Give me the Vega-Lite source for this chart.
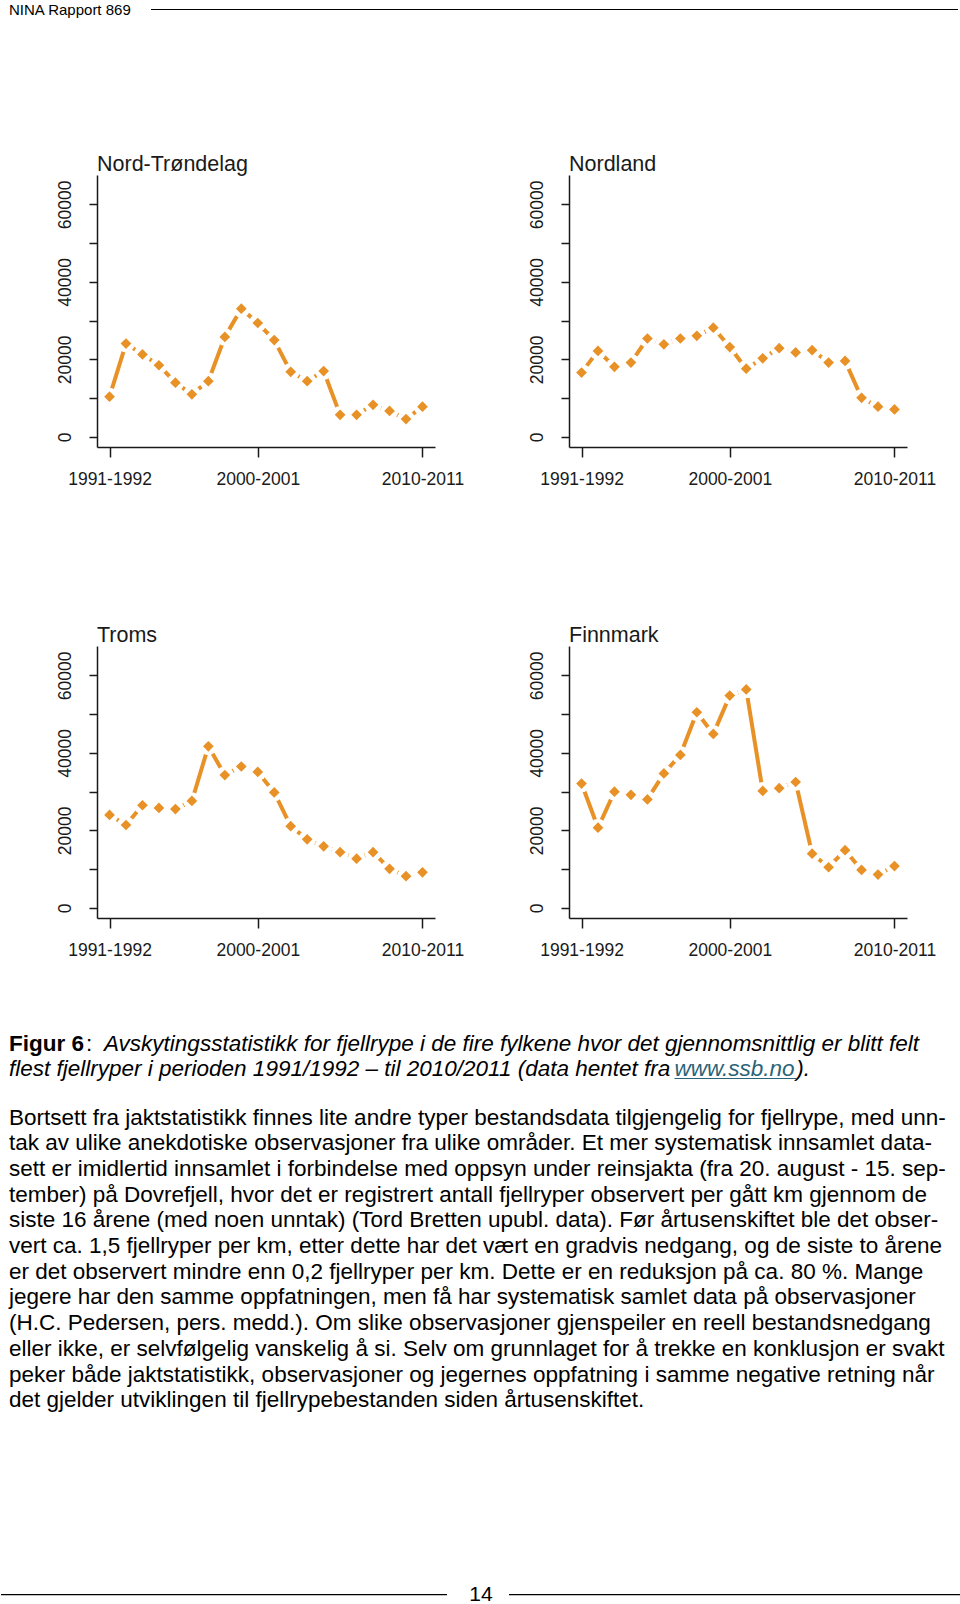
{
  "$schema": "https://vega.github.io/schema/vega-lite/v6.json",
  "padding": 0,
  "background": "white",
  "columns": 4,
  "spacing": 0,
  "bounds": "flush",
  "align": "each",
  "config": {
    "view": {"stroke": null},
    "font": "Liberation Sans",
    "axis": {"grid": false, "domainColor": "#1a1a1a", "tickColor": "#1a1a1a", "labelColor": "#1a1a1a", "labelFont": "Liberation Sans", "labelFontSize": 17.5, "domainWidth": 1.5, "tickWidth": 1.5, "title": null},
    "title": {"font": "Liberation Sans", "fontSize": 21.5, "fontWeight": "normal", "color": "#1a1a1a", "anchor": "start", "frame": "group", "baseline": "alphabetic", "offset": 0, "dy": 4}
  },
  "datasets": {
    "rype": [
      {"region": "Nord-Trøndelag", "year": 1991, "catch": 10400},
      {"region": "Nord-Trøndelag", "year": 1992, "catch": 24100},
      {"region": "Nord-Trøndelag", "year": 1993, "catch": 21300},
      {"region": "Nord-Trøndelag", "year": 1994, "catch": 18500},
      {"region": "Nord-Trøndelag", "year": 1995, "catch": 14000},
      {"region": "Nord-Trøndelag", "year": 1996, "catch": 11000},
      {"region": "Nord-Trøndelag", "year": 1997, "catch": 14400},
      {"region": "Nord-Trøndelag", "year": 1998, "catch": 25800},
      {"region": "Nord-Trøndelag", "year": 1999, "catch": 33100},
      {"region": "Nord-Trøndelag", "year": 2000, "catch": 29400},
      {"region": "Nord-Trøndelag", "year": 2001, "catch": 25000},
      {"region": "Nord-Trøndelag", "year": 2002, "catch": 16800},
      {"region": "Nord-Trøndelag", "year": 2003, "catch": 14400},
      {"region": "Nord-Trøndelag", "year": 2004, "catch": 17000},
      {"region": "Nord-Trøndelag", "year": 2005, "catch": 5700},
      {"region": "Nord-Trøndelag", "year": 2006, "catch": 5700},
      {"region": "Nord-Trøndelag", "year": 2007, "catch": 8300},
      {"region": "Nord-Trøndelag", "year": 2008, "catch": 6700},
      {"region": "Nord-Trøndelag", "year": 2009, "catch": 4600},
      {"region": "Nord-Trøndelag", "year": 2010, "catch": 7800},
      {"region": "Nordland", "year": 1991, "catch": 16600},
      {"region": "Nordland", "year": 1992, "catch": 22200},
      {"region": "Nordland", "year": 1993, "catch": 18100},
      {"region": "Nordland", "year": 1994, "catch": 19200},
      {"region": "Nordland", "year": 1995, "catch": 25400},
      {"region": "Nordland", "year": 1996, "catch": 23900},
      {"region": "Nordland", "year": 1997, "catch": 25400},
      {"region": "Nordland", "year": 1998, "catch": 26100},
      {"region": "Nordland", "year": 1999, "catch": 28200},
      {"region": "Nordland", "year": 2000, "catch": 23200},
      {"region": "Nordland", "year": 2001, "catch": 17600},
      {"region": "Nordland", "year": 2002, "catch": 20300},
      {"region": "Nordland", "year": 2003, "catch": 22900},
      {"region": "Nordland", "year": 2004, "catch": 21800},
      {"region": "Nordland", "year": 2005, "catch": 22400},
      {"region": "Nordland", "year": 2006, "catch": 19200},
      {"region": "Nordland", "year": 2007, "catch": 19600},
      {"region": "Nordland", "year": 2008, "catch": 10100},
      {"region": "Nordland", "year": 2009, "catch": 7800},
      {"region": "Nordland", "year": 2010, "catch": 7100},
      {"region": "Troms", "year": 1991, "catch": 24000},
      {"region": "Troms", "year": 1992, "catch": 21400},
      {"region": "Troms", "year": 1993, "catch": 26500},
      {"region": "Troms", "year": 1994, "catch": 25800},
      {"region": "Troms", "year": 1995, "catch": 25500},
      {"region": "Troms", "year": 1996, "catch": 27600},
      {"region": "Troms", "year": 1997, "catch": 41700},
      {"region": "Troms", "year": 1998, "catch": 34300},
      {"region": "Troms", "year": 1999, "catch": 36500},
      {"region": "Troms", "year": 2000, "catch": 35100},
      {"region": "Troms", "year": 2001, "catch": 29800},
      {"region": "Troms", "year": 2002, "catch": 21100},
      {"region": "Troms", "year": 2003, "catch": 17700},
      {"region": "Troms", "year": 2004, "catch": 15900},
      {"region": "Troms", "year": 2005, "catch": 14400},
      {"region": "Troms", "year": 2006, "catch": 12700},
      {"region": "Troms", "year": 2007, "catch": 14400},
      {"region": "Troms", "year": 2008, "catch": 10100},
      {"region": "Troms", "year": 2009, "catch": 8200},
      {"region": "Troms", "year": 2010, "catch": 9200},
      {"region": "Finnmark", "year": 1991, "catch": 32100},
      {"region": "Finnmark", "year": 1992, "catch": 20700},
      {"region": "Finnmark", "year": 1993, "catch": 30000},
      {"region": "Finnmark", "year": 1994, "catch": 29200},
      {"region": "Finnmark", "year": 1995, "catch": 28000},
      {"region": "Finnmark", "year": 1996, "catch": 34700},
      {"region": "Finnmark", "year": 1997, "catch": 39500},
      {"region": "Finnmark", "year": 1998, "catch": 50500},
      {"region": "Finnmark", "year": 1999, "catch": 44900},
      {"region": "Finnmark", "year": 2000, "catch": 54800},
      {"region": "Finnmark", "year": 2001, "catch": 56400},
      {"region": "Finnmark", "year": 2002, "catch": 30200},
      {"region": "Finnmark", "year": 2003, "catch": 30900},
      {"region": "Finnmark", "year": 2004, "catch": 32500},
      {"region": "Finnmark", "year": 2005, "catch": 14000},
      {"region": "Finnmark", "year": 2006, "catch": 10500},
      {"region": "Finnmark", "year": 2007, "catch": 14900},
      {"region": "Finnmark", "year": 2008, "catch": 9800},
      {"region": "Finnmark", "year": 2009, "catch": 8600},
      {"region": "Finnmark", "year": 2010, "catch": 10800}
    ],
    "paragraph": [
      {"line": 1, "text": "Bortsett fra jaktstatistikk finnes lite andre typer bestandsdata tilgjengelig for fjellrype, med unn-"},
      {"line": 2, "text": "tak av ulike anekdotiske observasjoner fra ulike områder. Et mer systematisk innsamlet data-"},
      {"line": 3, "text": "sett er imidlertid innsamlet i forbindelse med oppsyn under reinsjakta (fra 20. august - 15. sep-"},
      {"line": 4, "text": "tember) på Dovrefjell, hvor det er registrert antall fjellryper observert per gått km gjennom de"},
      {"line": 5, "text": "siste 16 årene (med noen unntak) (Tord Bretten upubl. data). Før årtusenskiftet ble det obser-"},
      {"line": 6, "text": "vert ca. 1,5 fjellryper per km, etter dette har det vært en gradvis nedgang, og de siste to årene"},
      {"line": 7, "text": "er det observert mindre enn 0,2 fjellryper per km. Dette er en reduksjon på ca. 80 %. Mange"},
      {"line": 8, "text": "jegere har den samme oppfatningen, men få har systematisk samlet data på observasjoner"},
      {"line": 9, "text": "(H.C. Pedersen, pers. medd.). Om slike observasjoner gjenspeiler en reell bestandsnedgang"},
      {"line": 10, "text": "eller ikke, er selvfølgelig vanskelig å si. Selv om grunnlaget for å trekke en konklusjon er svakt"},
      {"line": 11, "text": "peker både jaktstatistikk, observasjoner og jegernes oppfatning i samme negative retning når"},
      {"line": 12, "text": "det gjelder utviklingen til fjellrypebestanden siden årtusenskiftet."}
    ]
  },
  "concat": [
    {
      "width": 96, "height": 175,
      "data": {"values": [{}]},
      "layer": [
        {"mark": {"type": "text", "text": "NINA Rapport 869", "align": "left", "baseline": "alphabetic", "fontSize": 15, "font": "Liberation Sans", "color": "#000"},
         "encoding": {"x": {"value": 8}, "y": {"value": 14.5}}},
        {"mark": {"type": "rule", "color": "#000", "strokeWidth": 1.2},
         "encoding": {"x": {"value": 150}, "x2": {"value": 957}, "y": {"value": 9.5}}}
      ]
    },
    {"width": 1, "height": 1, "data": {"values": []}, "mark": "point"},
    {"width": 1, "height": 1, "data": {"values": []}, "mark": "point"},
    {"width": 1, "height": 1, "data": {"values": []}, "mark": "point"},

    {"width": 96, "height": 1, "data": {"values": []}, "mark": "point"},
    {
      "width": 338, "height": 272,
      "title": {"text": "Nord-Trøndelag"},
      "data": {"name": "rype"},
      "transform": [{"filter": "datum.region === 'Nord-Trøndelag'"}],
      "encoding": {
        "x": {"field": "year", "type": "quantitative", "scale": {"domain": [1990.24, 2010.76], "nice": false, "zero": false},
              "axis": {"values": [1991, 2000, 2010], "labelExpr": "datum.value + '-' + (datum.value + 1)", "tickSize": 10, "labelPadding": 27, "labelBaseline": "alphabetic", "labelAngle": 0, "labelFlush": false, "labelOverlap": false}},
        "y": {"field": "catch", "type": "quantitative", "scale": {"domain": [-2600, 67600], "nice": false, "zero": false},
              "axis": {"values": [0, 10000, 20000, 30000, 40000, 50000, 60000], "labelExpr": "datum.value % 20000 === 0 ? format(datum.value, 'd') : ''", "tickSize": 8, "labelAngle": 270, "labelAlign": "center", "labelBaseline": "alphabetic", "labelPadding": 18.5, "labelOverlap": false, "labelFlush": false}}
      },
      "layer": [
        {"mark": {"type": "line", "color": "#E89126", "strokeWidth": 4}},
        {"mark": {"type": "point", "shape": "circle", "filled": true, "color": "white", "opacity": 1, "size": 314}},
        {"mark": {"type": "point", "shape": "diamond", "filled": true, "color": "#E89126", "opacity": 1, "size": 115}}
      ]
    },
    {"width": 134, "height": 1, "data": {"values": []}, "mark": "point"},
    {
      "width": 338, "height": 272,
      "title": {"text": "Nordland"},
      "data": {"name": "rype"},
      "transform": [{"filter": "datum.region === 'Nordland'"}],
      "encoding": {
        "x": {"field": "year", "type": "quantitative", "scale": {"domain": [1990.24, 2010.76], "nice": false, "zero": false},
              "axis": {"values": [1991, 2000, 2010], "labelExpr": "datum.value + '-' + (datum.value + 1)", "tickSize": 10, "labelPadding": 27, "labelBaseline": "alphabetic", "labelAngle": 0, "labelFlush": false, "labelOverlap": false}},
        "y": {"field": "catch", "type": "quantitative", "scale": {"domain": [-2600, 67600], "nice": false, "zero": false},
              "axis": {"values": [0, 10000, 20000, 30000, 40000, 50000, 60000], "labelExpr": "datum.value % 20000 === 0 ? format(datum.value, 'd') : ''", "tickSize": 8, "labelAngle": 270, "labelAlign": "center", "labelBaseline": "alphabetic", "labelPadding": 18.5, "labelOverlap": false, "labelFlush": false}}
      },
      "layer": [
        {"mark": {"type": "line", "color": "#E89126", "strokeWidth": 4}},
        {"mark": {"type": "point", "shape": "circle", "filled": true, "color": "white", "opacity": 1, "size": 314}},
        {"mark": {"type": "point", "shape": "diamond", "filled": true, "color": "#E89126", "opacity": 1, "size": 115}}
      ]
    },

    {"width": 1, "height": 199, "data": {"values": []}, "mark": "point"},
    {"width": 1, "height": 1, "data": {"values": []}, "mark": "point"},
    {"width": 1, "height": 1, "data": {"values": []}, "mark": "point"},
    {"width": 1, "height": 1, "data": {"values": []}, "mark": "point"},

    {"width": 96, "height": 1, "data": {"values": []}, "mark": "point"},
    {
      "width": 338, "height": 272,
      "title": {"text": "Troms"},
      "data": {"name": "rype"},
      "transform": [{"filter": "datum.region === 'Troms'"}],
      "encoding": {
        "x": {"field": "year", "type": "quantitative", "scale": {"domain": [1990.24, 2010.76], "nice": false, "zero": false},
              "axis": {"values": [1991, 2000, 2010], "labelExpr": "datum.value + '-' + (datum.value + 1)", "tickSize": 10, "labelPadding": 27, "labelBaseline": "alphabetic", "labelAngle": 0, "labelFlush": false, "labelOverlap": false}},
        "y": {"field": "catch", "type": "quantitative", "scale": {"domain": [-2600, 67600], "nice": false, "zero": false},
              "axis": {"values": [0, 10000, 20000, 30000, 40000, 50000, 60000], "labelExpr": "datum.value % 20000 === 0 ? format(datum.value, 'd') : ''", "tickSize": 8, "labelAngle": 270, "labelAlign": "center", "labelBaseline": "alphabetic", "labelPadding": 18.5, "labelOverlap": false, "labelFlush": false}}
      },
      "layer": [
        {"mark": {"type": "line", "color": "#E89126", "strokeWidth": 4}},
        {"mark": {"type": "point", "shape": "circle", "filled": true, "color": "white", "opacity": 1, "size": 314}},
        {"mark": {"type": "point", "shape": "diamond", "filled": true, "color": "#E89126", "opacity": 1, "size": 115}}
      ]
    },
    {"width": 134, "height": 1, "data": {"values": []}, "mark": "point"},
    {
      "width": 338, "height": 272,
      "title": {"text": "Finnmark"},
      "data": {"name": "rype"},
      "transform": [{"filter": "datum.region === 'Finnmark'"}],
      "encoding": {
        "x": {"field": "year", "type": "quantitative", "scale": {"domain": [1990.24, 2010.76], "nice": false, "zero": false},
              "axis": {"values": [1991, 2000, 2010], "labelExpr": "datum.value + '-' + (datum.value + 1)", "tickSize": 10, "labelPadding": 27, "labelBaseline": "alphabetic", "labelAngle": 0, "labelFlush": false, "labelOverlap": false}},
        "y": {"field": "catch", "type": "quantitative", "scale": {"domain": [-2600, 67600], "nice": false, "zero": false},
              "axis": {"values": [0, 10000, 20000, 30000, 40000, 50000, 60000], "labelExpr": "datum.value % 20000 === 0 ? format(datum.value, 'd') : ''", "tickSize": 8, "labelAngle": 270, "labelAlign": "center", "labelBaseline": "alphabetic", "labelPadding": 18.5, "labelOverlap": false, "labelFlush": false}}
      },
      "layer": [
        {"mark": {"type": "line", "color": "#E89126", "strokeWidth": 4}},
        {"mark": {"type": "point", "shape": "circle", "filled": true, "color": "white", "opacity": 1, "size": 314}},
        {"mark": {"type": "point", "shape": "diamond", "filled": true, "color": "#E89126", "opacity": 1, "size": 115}}
      ]
    },

    {
      "width": 96, "height": 686,
      "layer": [
        {"data": {"values": [{}]},
         "mark": {"type": "text", "text": "Figur 6", "align": "left", "baseline": "alphabetic", "fontSize": 22.5, "fontWeight": "bold", "font": "Liberation Sans", "color": "#000"},
         "encoding": {"x": {"value": 8}, "y": {"value": 133}}},
        {"data": {"values": [{}]},
         "mark": {"type": "text", "text": ":", "align": "left", "baseline": "alphabetic", "fontSize": 22.5, "font": "Liberation Sans", "color": "#000"},
         "encoding": {"x": {"value": 85}, "y": {"value": 133}}},
        {"data": {"values": [{}]},
         "mark": {"type": "text", "text": "Avskytingsstatistikk for fjellrype i de fire fylkene hvor det gjennomsnittlig er blitt felt", "align": "left", "baseline": "alphabetic", "fontSize": 22.5, "fontStyle": "italic", "font": "Liberation Sans", "color": "#000"},
         "encoding": {"x": {"value": 103}, "y": {"value": 133}}},
        {"data": {"values": [{}]},
         "mark": {"type": "text", "text": "flest fjellryper i perioden 1991/1992 – til 2010/2011 (data hentet fra", "align": "left", "baseline": "alphabetic", "fontSize": 22.5, "fontStyle": "italic", "font": "Liberation Sans", "color": "#000"},
         "encoding": {"x": {"value": 8}, "y": {"value": 157.5}}},
        {"data": {"values": [{}]},
         "mark": {"type": "text", "text": "www.ssb.no", "align": "left", "baseline": "alphabetic", "fontSize": 22.5, "fontStyle": "italic", "font": "Liberation Sans", "color": "#2A6478"},
         "encoding": {"x": {"value": 673.5}, "y": {"value": 157.5}}},
        {"data": {"values": [{}]},
         "mark": {"type": "rule", "color": "#2A6478", "strokeWidth": 1.2},
         "encoding": {"x": {"value": 673.5}, "x2": {"value": 795.3}, "y": {"value": 160.5}}},
        {"data": {"values": [{}]},
         "mark": {"type": "text", "text": ").", "align": "left", "baseline": "alphabetic", "fontSize": 22.5, "fontStyle": "italic", "font": "Liberation Sans", "color": "#000"},
         "encoding": {"x": {"value": 795.3}, "y": {"value": 157.5}}},
        {"data": {"name": "paragraph"},
         "mark": {"type": "text", "align": "left", "baseline": "alphabetic", "fontSize": 22.5, "font": "Liberation Sans", "color": "#000"},
         "encoding": {
           "x": {"value": 8},
           "y": {"field": "line", "type": "quantitative", "scale": {"domain": [1, 12], "range": [206.5, 489.2], "zero": false, "nice": false}, "axis": null},
           "text": {"field": "text", "type": "nominal"}
         }},
        {"data": {"values": [{}]},
         "mark": {"type": "rule", "color": "#000", "strokeWidth": 1.2},
         "encoding": {"x": {"value": 0}, "x2": {"value": 446}, "y": {"value": 676.6}}},
        {"data": {"values": [{}]},
         "mark": {"type": "rule", "color": "#000", "strokeWidth": 1.2},
         "encoding": {"x": {"value": 508}, "x2": {"value": 960}, "y": {"value": 676.6}}},
        {"data": {"values": [{}]},
         "mark": {"type": "text", "text": "14", "align": "center", "baseline": "alphabetic", "fontSize": 21, "font": "Liberation Sans", "color": "#000"},
         "encoding": {"x": {"value": 480}, "y": {"value": 683}}}
      ]
    },
    {"width": 1, "height": 1, "data": {"values": []}, "mark": "point"},
    {"width": 1, "height": 1, "data": {"values": []}, "mark": "point"},
    {"width": 1, "height": 1, "data": {"values": []}, "mark": "point"}
  ]
}
